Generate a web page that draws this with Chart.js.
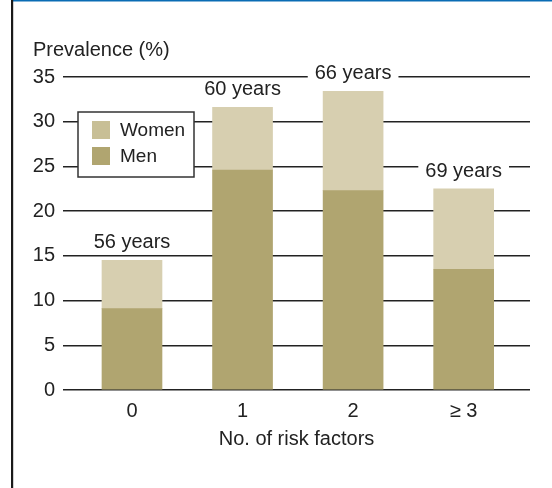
<!DOCTYPE html>
<html>
<head>
<meta charset="utf-8">
<title>Prevalence by number of risk factors</title>
<script src="https://cdn.jsdelivr.net/npm/chart.js@4/dist/chart.umd.min.js"></script>
<style>
  html, body { margin: 0; padding: 0; background: #ffffff; }
  canvas { display: block; }
</style>
</head>
<body>
<canvas id="chart" width="552" height="488"></canvas>
<script>
// Number of risk factors (x categories)
const riskFactors = ['0', '1', '2', '\u2265 3'];
// Prevalence (%) by sex, stacked: men at the bottom, women on top
const men = [9.1, 24.6, 22.3, 13.5];
const women = [5.4, 7.0, 11.1, 9.0];
// Mean age of each group, printed above its bar
const meanAge = ['56 years', '60 years', '66 years', '69 years'];
// Y axis range and step
const yMax = 35;
const yStep = 5;

const FONT = "'Liberation Sans', Arial, Helvetica, sans-serif";
const TEXT = '#222222';
const MEN_COLOR = '#b0a570';
const WOMEN_COLOR = '#d7cfb0';
const WOMEN_KEY = '#c8bf96';

const pageDecor = {
  id: 'pageDecor',
  beforeDraw(chart) {
    const ctx = chart.ctx;
    ctx.save();
    ctx.fillStyle = '#ffffff';
    ctx.fillRect(0, 0, chart.width, chart.height);
    // blue rule along the top and black rule down the left side
    ctx.fillStyle = '#0a6cb4';
    ctx.fillRect(12, 0, chart.width - 12, 1.5);
    ctx.fillStyle = '#1a1a1a';
    ctx.fillRect(11, 0, 2.2, chart.height);
    ctx.restore();
  },
  afterDatasetsDraw(chart) {
    const ctx = chart.ctx;
    const xs = chart.scales.x;
    const ys = chart.scales.y;
    ctx.save();

    // mean-age labels above each stacked bar, knocking out the grid behind them
    ctx.font = '20px ' + FONT;
    ctx.textAlign = 'center';
    ctx.textBaseline = 'middle';
    meanAge.forEach((txt, i) => {
      const cx = xs.getPixelForValue(i);
      const cy = ys.getPixelForValue(men[i] + women[i]) - 17.5;
      const w = ctx.measureText(txt).width;
      ctx.fillStyle = '#ffffff';
      ctx.fillRect(cx - w / 2 - 7, cy - 10, w + 14, 20);
      ctx.fillStyle = TEXT;
      ctx.fillText(txt, cx, cy);
    });

    // y axis heading
    ctx.textAlign = 'left';
    ctx.textBaseline = 'alphabetic';
    ctx.fillText('Prevalence (%)', 33, 56);

    // legend box
    const bx = 78, by = 112, bw = 116, bh = 65;
    ctx.fillStyle = '#ffffff';
    ctx.fillRect(bx, by, bw, bh);
    ctx.strokeStyle = '#333333';
    ctx.lineWidth = 1.5;
    ctx.strokeRect(bx, by, bw, bh);
    const keys = [
      { label: chart.data.datasets[1].label, color: WOMEN_KEY, y: 121 },
      { label: chart.data.datasets[0].label, color: MEN_COLOR, y: 147 }
    ];
    ctx.font = '19px ' + FONT;
    ctx.textBaseline = 'middle';
    keys.forEach(k => {
      ctx.fillStyle = k.color;
      ctx.fillRect(92, k.y, 18, 18);
      ctx.fillStyle = TEXT;
      ctx.fillText(k.label, 120, k.y + 9.5);
    });
    ctx.restore();
  }
};

new Chart(document.getElementById('chart'), {
  type: 'bar',
  data: {
    datasets: [
      {
        label: 'Men',
        data: men.map((v, i) => ({ x: i, y: v })),
        backgroundColor: MEN_COLOR,
        borderWidth: 0,
        barThickness: 60
      },
      {
        label: 'Women',
        data: women.map((v, i) => ({ x: i, y: v })),
        backgroundColor: WOMEN_COLOR,
        borderWidth: 0,
        barThickness: 60
      }
    ]
  },
  options: {
    responsive: false,
    animation: false,
    layout: { padding: { left: 0, top: 77, right: 22, bottom: 0 } },
    plugins: {
      legend: { display: false },
      tooltip: { enabled: false },
      title: { display: false }
    },
    scales: {
      x: {
        type: 'linear',
        stacked: true,
        offset: false,
        min: -0.624,
        max: 3.6,
        afterBuildTicks(scale) {
          scale.ticks = riskFactors.map((_, i) => ({ value: i }));
        },
        afterFit(scale) { scale.height = 98; },
        grid: { display: false, drawTicks: false, offset: false },
        border: { display: false },
        ticks: {
          padding: 9,
          color: TEXT,
          font: { family: FONT, size: 20 },
          callback: (v) => riskFactors[v]
        },
        title: {
          display: true,
          text: 'No. of risk factors',
          color: TEXT,
          font: { family: FONT, size: 20 },
          padding: { top: 0, bottom: 37 }
        }
      },
      y: {
        stacked: true,
        min: 0,
        max: yMax,
        afterFit(scale) { scale.width = 63; },
        grid: { color: '#222222', lineWidth: 1.5, drawTicks: false },
        border: { display: false },
        ticks: {
          stepSize: yStep,
          padding: 8,
          color: TEXT,
          font: { family: FONT, size: 20 }
        }
      }
    }
  },
  plugins: [pageDecor]
});
</script>
</body>
</html>
